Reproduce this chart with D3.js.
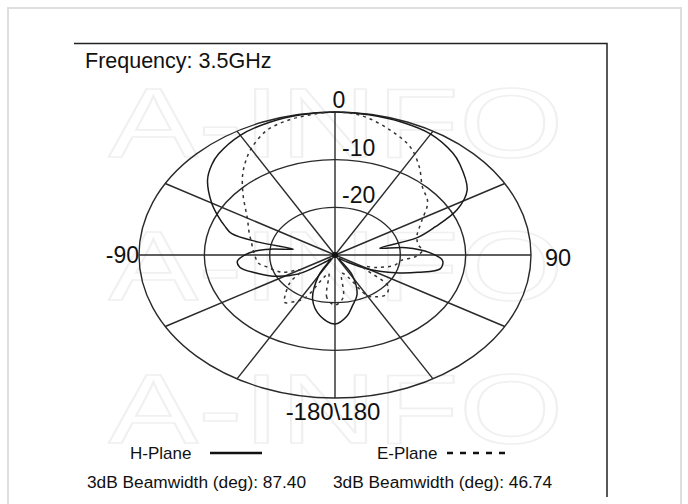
<!DOCTYPE html>
<html>
<head>
<meta charset="utf-8">
<script src="https://cdn.jsdelivr.net/npm/d3@7"></script>
<style>
  body { margin: 0; background: #fff; }
  text { font-family: "Liberation Sans", Arial, sans-serif; fill: #111; }
</style>
</head>
<body>
<script>
// chart data: angle in degrees, gain in dB
var ringValues = [0, -10, -20];
var spokeAngles = [0, 30, 60, 90, 120, 150, 180, 210, 240, 270, 300, 330];

var hAngles = [-180, -170, -160, -150, -142, -135, -125, -115, -107, -100, -95, -90, -86, -83, -79, -77, -74, -70, -66, -60, -51, -45, -40, -30, -20, -10,
  0, 10, 20, 30, 40, 45, 56, 63, 69, 74, 78, 82, 88, 94, 100, 106, 112, 120, 130, 140, 148, 158, 166, 172];
var hGain = [-15.5, -17, -20, -25, -29, -28, -23, -19.5, -17.2, -15.2, -15, -16.2, -17.8, -20, -23.5, -18, -13.5, -12, -10.5, -8.2, -4.9, -3.3, -2.3, -1, -0.4, -0.1,
  0, -0.1, -0.3, -0.7, -2, -3, -5.6, -9, -13.6, -17, -23, -19, -15.5, -13.5, -13.6, -16.8, -20, -24, -28, -29, -25, -21, -19, -17];

var eAngles = [-180, -172, -166, -160, -153, -148, -142, -138, -130, -122, -114, -104, -98, -92, -85, -79, -70, -61, -55, -49, -41, -36, -30, -22, -15, -8,
  0, 8, 18, 27, 35, 43, 52, 62, 72, 80, 86, 92, 96, 103, 112, 120, 129, 137, 145, 150, 157, 165, 172];
var eGain = [-19.5, -21, -26, -25, -19.9, -18.5, -17.4, -18.6, -21, -24, -21.1, -19.4, -18.1, -17.8, -17.4, -17, -16, -14.7, -13.3, -11.4, -8.4, -6.5, -4.3, -1.9, -0.9, -0.4,
  0, -0.5, -2.5, -4.6, -7.5, -10.4, -12, -15, -16.8, -17.1, -16.6, -17.8, -19.7, -20.6, -23, -25, -19.5, -18.6, -19.3, -20.2, -25, -26, -21];

var width = 688, height = 504;
var cx = 335, cy = 255, rx = 196, ry = 143;

var svg = d3.select('body').append('svg')
  .attr('width', width)
  .attr('height', height);

// page border
svg.append('path')
  .attr('d', 'M8,504 V8 H681 V504')
  .attr('fill', 'none')
  .attr('stroke', '#dedede')
  .attr('stroke-width', 2);

// watermark
[122, 265, 408].forEach(function(y) {
  svg.append('text')
    .attr('transform', 'translate(336,' + (y + 35) + ') scale(1.37,1)')
    .attr('text-anchor', 'middle')
    .style('font-size', '98px')
    .style('fill', 'none')
    .attr('stroke', '#f0f0f0')
    .attr('stroke-width', 1.6)
    .text('A-INFO');
});

// frame
svg.append('path')
  .attr('d', 'M74,43.5 H607 V497')
  .attr('fill', 'none')
  .attr('stroke', '#222')
  .attr('stroke-width', 1.5);

svg.append('text')
  .attr('x', 85).attr('y', 68)
  .style('font-size', '21.5px')
  .text('Frequency: 3.5GHz');

var r = d3.scaleLinear().domain([-30, 0]).range([0, 1]).clamp(true);

function px(a, db) { return cx + rx * r(db) * Math.sin(a * Math.PI / 180); }
function py(a, db) { return cy - ry * r(db) * Math.cos(a * Math.PI / 180); }

var grid = svg.append('g')
  .attr('fill', 'none')
  .attr('stroke', '#2a2a2a')
  .attr('stroke-width', 1.4);

grid.selectAll('ellipse')
  .data(ringValues)
  .enter().append('ellipse')
  .attr('cx', cx).attr('cy', cy)
  .attr('rx', function(d) { return rx * r(d); })
  .attr('ry', function(d) { return ry * r(d); });

grid.selectAll('line')
  .data(spokeAngles)
  .enter().append('line')
  .attr('x1', cx).attr('y1', cy)
  .attr('x2', function(d) { return px(d, 0); })
  .attr('y2', function(d) { return py(d, 0); });

// ring labels
svg.selectAll('.ringLabel')
  .data(ringValues)
  .enter().append('text')
  .attr('class', 'ringLabel')
  .attr('x', function(d) { return d === 0 ? cx + 4 : cx + 7; })
  .attr('y', function(d) { return py(0, d) - 4; })
  .attr('text-anchor', function(d) { return d === 0 ? 'middle' : 'start'; })
  .style('font-size', '23px')
  .text(function(d) { return d; });

svg.append('text').attr('x', 139).attr('y', 263)
  .attr('text-anchor', 'end').style('font-size', '23px').text('-90');
svg.append('text').attr('x', 545).attr('y', 266)
  .style('font-size', '23.5px').text('90');
svg.append('text').attr('x', 333).attr('y', 420)
  .attr('text-anchor', 'middle').style('font-size', '24px').text('-180\\180');

var line = d3.line()
  .x(function(d) { return px(d[0], d[1]); })
  .y(function(d) { return py(d[0], d[1]); })
  .curve(d3.curveCatmullRomClosed.alpha(0.5));

svg.append('path')
  .attr('d', line(d3.zip(hAngles, hGain)))
  .attr('fill', 'none')
  .attr('stroke', '#1a1a1a')
  .attr('stroke-width', 1.5);

svg.append('path')
  .attr('d', line(d3.zip(eAngles, eGain)))
  .attr('fill', 'none')
  .attr('stroke', '#333')
  .attr('stroke-width', 1.5)
  .attr('stroke-dasharray', '3,4');

svg.append('circle').attr('cx', cx).attr('cy', cy).attr('r', 3).attr('fill', '#111');

// legend
svg.append('text').attr('x', 130).attr('y', 459).style('font-size', '17px').text('H-Plane');
svg.append('line').attr('x1', 210).attr('x2', 262).attr('y1', 453).attr('y2', 453)
  .attr('stroke', '#111').attr('stroke-width', 2.5);
svg.append('text').attr('x', 377).attr('y', 459).style('font-size', '17px').text('E-Plane');
svg.append('line').attr('x1', 447).attr('x2', 508).attr('y1', 453).attr('y2', 453)
  .attr('stroke', '#111').attr('stroke-width', 2.5).attr('stroke-dasharray', '6,7');

svg.append('text').attr('x', 87).attr('y', 488).style('font-size', '17.3px').text('3dB Beamwidth (deg): 87.40');
svg.append('text').attr('x', 333).attr('y', 488).style('font-size', '17.3px').text('3dB Beamwidth (deg): 46.74');
</script>
</body>
</html>
